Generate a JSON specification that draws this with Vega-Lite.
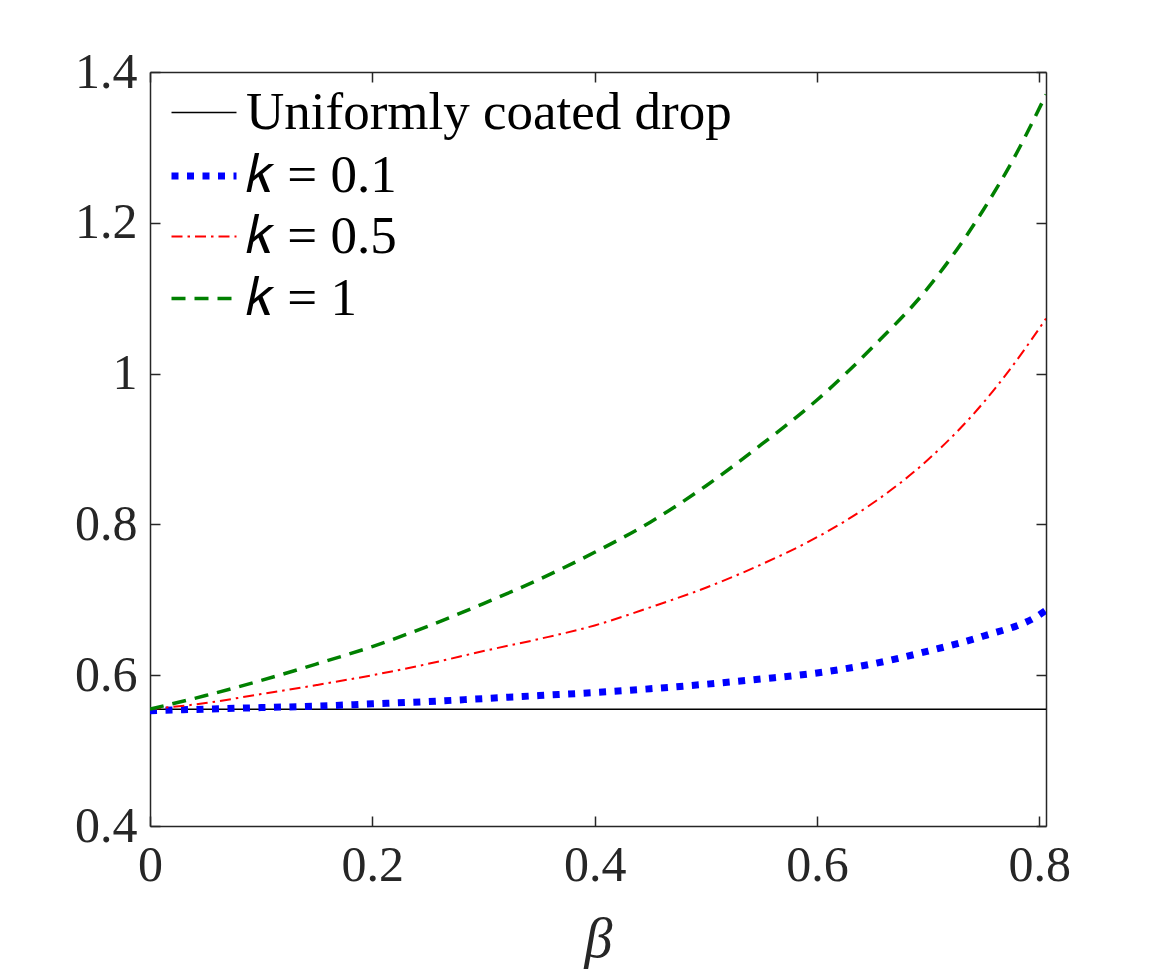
{
  "$schema": "https://vega.github.io/schema/vega-lite/v6.json",
  "autosize": {"type": "none"},
  "width": 896,
  "height": 754,
  "padding": {"left": 150, "top": 72, "right": 111, "bottom": 143},
  "background": "white",
  "config": {
    "view": {"stroke": null},
    "axis": {
      "grid": false,
      "domainColor": "#262626",
      "domainWidth": 1.5,
      "tickColor": "#262626",
      "tickWidth": 1.5,
      "tickSize": -10,
      "labelFont": "Liberation Serif",
      "labelFontSize": 50,
      "labelColor": "#262626",
      "titleFont": "Liberation Serif",
      "titleColor": "#262626"
    },
    "legend": {
      "orient": "none",
      "legendX": 18,
      "legendY": 7,
      "padding": 0,
      "labelFont": "Liberation Serif",
      "labelFontSize": 53,
      "labelColor": "#000000",
      "labelOffset": 6,
      "labelLimit": 800,
      "rowPadding": 0,
      "symbolSize": 4225,
      "symbolType": "stroke"
    }
  },
  "data": {
    "values": [
      {"b": 0, "v": 0.555, "s": "Uniformly coated drop"},
      {"b": 0.806, "v": 0.555, "s": "Uniformly coated drop"},
      {"b": 0, "v": 0.553, "s": "k = 0.1"},
      {"b": 0.05, "v": 0.555, "s": "k = 0.1"},
      {"b": 0.1, "v": 0.557, "s": "k = 0.1"},
      {"b": 0.15, "v": 0.559, "s": "k = 0.1"},
      {"b": 0.2, "v": 0.562, "s": "k = 0.1"},
      {"b": 0.25, "v": 0.565, "s": "k = 0.1"},
      {"b": 0.3, "v": 0.569, "s": "k = 0.1"},
      {"b": 0.35, "v": 0.573, "s": "k = 0.1"},
      {"b": 0.4, "v": 0.577, "s": "k = 0.1"},
      {"b": 0.45, "v": 0.582, "s": "k = 0.1"},
      {"b": 0.5, "v": 0.588, "s": "k = 0.1"},
      {"b": 0.55, "v": 0.595, "s": "k = 0.1"},
      {"b": 0.6, "v": 0.603, "s": "k = 0.1"},
      {"b": 0.65, "v": 0.615, "s": "k = 0.1"},
      {"b": 0.7, "v": 0.632, "s": "k = 0.1"},
      {"b": 0.75, "v": 0.652, "s": "k = 0.1"},
      {"b": 0.8, "v": 0.68, "s": "k = 0.1"},
      {"b": 0.806, "v": 0.686, "s": "k = 0.1"},
      {"b": 0, "v": 0.555, "s": "k = 0.5"},
      {"b": 0.05, "v": 0.563, "s": "k = 0.5"},
      {"b": 0.1, "v": 0.575, "s": "k = 0.5"},
      {"b": 0.15, "v": 0.587, "s": "k = 0.5"},
      {"b": 0.2, "v": 0.6, "s": "k = 0.5"},
      {"b": 0.25, "v": 0.615, "s": "k = 0.5"},
      {"b": 0.3, "v": 0.632, "s": "k = 0.5"},
      {"b": 0.35, "v": 0.648, "s": "k = 0.5"},
      {"b": 0.4, "v": 0.666, "s": "k = 0.5"},
      {"b": 0.45, "v": 0.69, "s": "k = 0.5"},
      {"b": 0.5, "v": 0.716, "s": "k = 0.5"},
      {"b": 0.55, "v": 0.747, "s": "k = 0.5"},
      {"b": 0.6, "v": 0.783, "s": "k = 0.5"},
      {"b": 0.65, "v": 0.828, "s": "k = 0.5"},
      {"b": 0.7, "v": 0.886, "s": "k = 0.5"},
      {"b": 0.75, "v": 0.962, "s": "k = 0.5"},
      {"b": 0.8, "v": 1.06, "s": "k = 0.5"},
      {"b": 0.806, "v": 1.073, "s": "k = 0.5"},
      {"b": 0, "v": 0.555, "s": "k = 1"},
      {"b": 0.05, "v": 0.573, "s": "k = 1"},
      {"b": 0.1, "v": 0.593, "s": "k = 1"},
      {"b": 0.15, "v": 0.615, "s": "k = 1"},
      {"b": 0.2, "v": 0.638, "s": "k = 1"},
      {"b": 0.25, "v": 0.665, "s": "k = 1"},
      {"b": 0.3, "v": 0.695, "s": "k = 1"},
      {"b": 0.35, "v": 0.727, "s": "k = 1"},
      {"b": 0.4, "v": 0.763, "s": "k = 1"},
      {"b": 0.45, "v": 0.803, "s": "k = 1"},
      {"b": 0.5, "v": 0.851, "s": "k = 1"},
      {"b": 0.55, "v": 0.906, "s": "k = 1"},
      {"b": 0.6, "v": 0.965, "s": "k = 1"},
      {"b": 0.65, "v": 1.035, "s": "k = 1"},
      {"b": 0.7, "v": 1.114, "s": "k = 1"},
      {"b": 0.75, "v": 1.218, "s": "k = 1"},
      {"b": 0.775, "v": 1.28, "s": "k = 1"},
      {"b": 0.806, "v": 1.37, "s": "k = 1"}
    ]
  },
  "layer": [
    {
      "mark": {"type": "line", "clip": true, "interpolate": "monotone", "strokeCap": "butt"},
      "encoding": {
        "x": {
          "field": "b", "type": "quantitative",
          "scale": {"domain": [0, 0.806], "nice": false, "zero": false},
          "axis": {
            "orient": "bottom",
            "values": [0, 0.2, 0.4, 0.6, 0.8],
            "labelExpr": "'' + datum.value",
            "labelFlush": false,
            "labelPadding": 24,
            "title": "β",
            "titleFontSize": 56,
            "titleFontStyle": "italic",
            "titleFontWeight": "normal",
            "titlePadding": 22
          }
        },
        "y": {
          "field": "v", "type": "quantitative",
          "scale": {"domain": [0.4, 1.4], "nice": false, "zero": false},
          "axis": {
            "orient": "left",
            "values": [0.4, 0.6, 0.8, 1, 1.2, 1.4],
            "labelExpr": "'' + datum.value",
            "labelFlush": false,
            "labelPadding": 23,
            "title": null
          }
        },
        "color": {
          "field": "s", "type": "nominal",
          "scale": {
            "domain": ["Uniformly coated drop", "k = 0.1", "k = 0.5", "k = 1"],
            "range": ["#000000", "#0000ff", "#ff0000", "#008000"]
          },
          "legend": {"title": null, "labelExpr": "replace(datum.label, 'k', '𝑘')"}
        },
        "strokeDash": {
          "field": "s", "type": "nominal",
          "scale": {
            "domain": ["Uniformly coated drop", "k = 0.1", "k = 0.5", "k = 1"],
            "range": [[1, 0], [7, 8.5], [11, 5, 2.5, 5], [14, 9]]
          },
          "legend": {"title": null, "labelExpr": "replace(datum.label, 'k', '𝑘')"}
        },
        "strokeWidth": {
          "field": "s", "type": "nominal",
          "scale": {
            "type": "ordinal",
            "domain": ["Uniformly coated drop", "k = 0.1", "k = 0.5", "k = 1"],
            "range": [1.5, 7, 2, 3.5]
          },
          "legend": {"title": null, "labelExpr": "replace(datum.label, 'k', '𝑘')"}
        }
      }
    },
    {
      "mark": {"type": "line", "strokeOpacity": 0},
      "encoding": {
        "x": {
          "field": "b", "type": "quantitative",
          "axis": {"orient": "top", "values": [0, 0.2, 0.4, 0.6, 0.8], "labels": false, "title": null}
        },
        "y": {
          "field": "v", "type": "quantitative",
          "axis": {"orient": "right", "values": [0.4, 0.6, 0.8, 1, 1.2, 1.4], "labels": false, "title": null}
        },
        "detail": {"field": "s", "type": "nominal"}
      }
    }
  ],
  "resolve": {"axis": {"x": "independent", "y": "independent"}}
}
